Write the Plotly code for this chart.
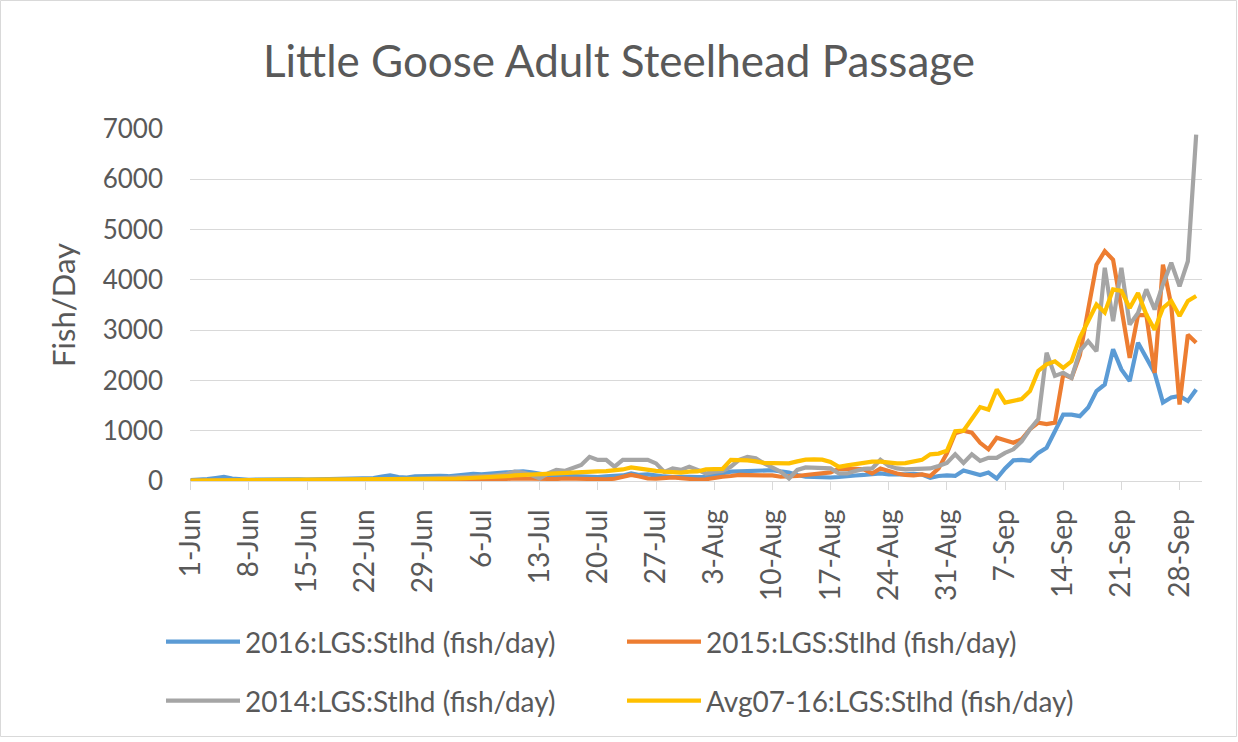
import datetime as dt
import plotly.graph_objects as go

# ---------------- data (daily values, 1-Jun .. 30-Sep) ----------------
start_date = "2016-06-01"
n_days = 122

s2016 = [20, 25, 40, 60, 80, 50, 30, 25, 30, 35,
         30, 35, 40, 35, 30, 35, 40, 45, 40, 50,
         45, 50, 60, 90, 110, 80, 70, 90, 100, 95,
         100, 95, 110, 130, 140, 130, 150, 160, 170, 180,
         190, 170, 140, 120, 110, 100, 110, 95, 90, 80,
         90, 100, 110, 150, 120, 130, 100, 90, 80, 90,
         85, 80, 85, 120, 160, 185, 190, 200, 200, 205,
         215, 190, 170, 120, 85, 80, 70, 70, 80, 85,
         110, 120, 140, 150, 130, 120, 130, 140, 130, 65,
         100, 110, 100, 210, 170, 120, 170, 50, 250, 410,
         420, 400, 560, 660, 990, 1320, 1320, 1290, 1460, 1790,
         1920, 2620, 2220, 1990, 2750, 2450, 2150, 1560, 1660, 1690,
         1590, 1820]

s2015 = [2, 3, 2, 4, 3, 3, 5, 4, 4, 6,
         5, 6, 5, 7, 6, 8, 7, 9, 8, 10,
         9, 11, 10, 12, 14, 13, 15, 18, 20, 22,
         25, 28, 30, 35, 32, 38, 40, 45, 42, 50,
         45, 40, 35, 30, 40, 50, 45, 60, 55, 40,
         35, 45, 80, 120, 90, 50, 45, 60, 70, 55,
         40, 30, 35, 70, 85, 100, 120, 115, 110, 120,
         110, 85, 85, 100, 120, 130, 150, 170, 240, 250,
         240, 230, 150, 250, 190, 150, 120, 110, 130, 100,
         250, 550, 950, 1000, 960, 760, 630, 860, 810, 760,
         830, 1030, 1160, 1130, 1160, 2120, 2050, 2500, 3410, 4300,
         4570, 4400, 3440, 2450, 3300, 3300, 2150, 4300, 3500, 1520,
         2910, 2750]

s2014 = [3, 4, 5, 4, 6, 5, 7, 6, 8, 7,
         9, 8, 10, 12, 11, 13, 12, 15, 14, 16,
         18, 20, 22, 25, 30, 28, 35, 40, 45, 50,
         55, 60, 65, 70, 80, 90, 100, 120, 140, 185,
         170, 120, 50, 150, 220, 200, 250, 320, 480, 420,
         420, 285, 420, 430, 420, 420, 350, 180, 250, 220,
         285, 220, 150, 180, 200, 285, 420, 480, 450, 350,
         270, 185, 50, 220, 270, 270, 260, 250, 150, 150,
         200, 240, 250, 420, 300, 250, 230, 240, 250, 250,
         300, 360, 530, 360, 530, 400, 460, 460, 560, 630,
         790, 1030, 1230, 2550, 2090, 2150, 2050, 2580, 2780, 2580,
         4240, 3180, 4240, 3110, 3340, 3810, 3410, 3910, 4340, 3870,
         4370, 6890]

avg0716 = [8, 9, 9, 10, 10, 11, 11, 12, 12, 13,
           13, 14, 14, 15, 15, 16, 17, 17, 18, 19,
           20, 21, 22, 24, 25, 27, 29, 31, 33, 36,
           40, 45, 50, 55, 60, 68, 75, 85, 95, 110,
           120, 125, 130, 140, 150, 160, 180, 185, 180, 190,
           195, 205, 230, 270, 240, 220, 200, 185, 170, 165,
           185, 190, 230, 225, 240, 420, 420, 410, 390, 360,
           355, 350, 350, 390, 425, 430, 425, 380, 280, 310,
           340, 360, 385, 385, 360, 350, 355, 385, 420, 530,
           545, 600, 990, 1000, 1230, 1470, 1420, 1820, 1560, 1600,
           1630, 1790, 2190, 2320, 2380, 2250, 2380, 2850, 3180, 3510,
           3350, 3810, 3780, 3440, 3740, 3310, 3010, 3440, 3580, 3280,
           3580, 3680]

series_names = ["2016:LGS:Stlhd (fish/day)", "2015:LGS:Stlhd (fish/day)",
                "2014:LGS:Stlhd (fish/day)", "Avg07-16:LGS:Stlhd (fish/day)"]
series_values = [s2016, s2015, s2014, avg0716]
series_colors = ["#5B9BD5", "#ED7D31", "#A5A5A5", "#FFC000"]
series_legend = ["legend", "legend", "legend2", "legend2"]

tick_labels = ["1-Jun", "8-Jun", "15-Jun", "22-Jun", "29-Jun", "6-Jul", "13-Jul",
               "20-Jul", "27-Jul", "3-Aug", "10-Aug", "17-Aug", "24-Aug", "31-Aug",
               "7-Sep", "14-Sep", "21-Sep", "28-Sep"]
y_ticks = [0, 1000, 2000, 3000, 4000, 5000, 6000, 7000]

# ---------------- figure ----------------
d0 = dt.datetime.strptime(start_date, "%Y-%m-%d")
dates = [d0 + dt.timedelta(days=i) for i in range(n_days)]
tick_vals = [d0 + dt.timedelta(days=7 * i) for i in range(len(tick_labels))]

FONT = "Lato"
TXT = "#595959"
W, H = 1238, 742
L, R, T, B = 190, 36, 129, 261
PW, PH = W - L - R, H - T - B

fig = go.Figure()
for name, vals, col, lg in zip(series_names, series_values, series_colors, series_legend):
    fig.add_trace(go.Scatter(x=dates, y=vals, name=name, mode="lines", legend=lg,
                             line=dict(color=col, width=4.2)))

legend_common = dict(orientation="h", xref="container", yref="container",
                     xanchor="left", yanchor="middle",
                     entrywidth=372, entrywidthmode="pixels", itemwidth=74,
                     font=dict(family=FONT, size=28, color=TXT),
                     bgcolor="rgba(0,0,0,0)", traceorder="normal")

fig.update_layout(
    width=W, height=H,
    margin=dict(l=L, r=R, t=T, b=B),
    paper_bgcolor="white", plot_bgcolor="white",
    font=dict(family=FONT, color=TXT, size=23),
    title=dict(text="Little Goose Adult Steelhead Passage",
               x=0.5, xref="container", xanchor="center",
               y=1 - 62 / H, yref="container", yanchor="middle",
               font=dict(family=FONT, size=44, color=TXT)),
    legend=dict(legend_common, x=161 / W, y=1 - 642 / H),
    legend2=dict(legend_common, x=161 / W, y=1 - 701 / H),
    shapes=[dict(type="rect", xref="paper", yref="paper",
                 x0=(0.5 - L) / PW, x1=(1236.5 - L) / PW,
                 y0=(T + PH - 736.5) / PH, y1=(T + PH - 0.5) / PH,
                 line=dict(color="#D9D9D9", width=1))],
)

fig.update_xaxes(
    type="date",
    range=[d0 - dt.timedelta(hours=2), d0 + dt.timedelta(days=121.7)],
    tickvals=tick_vals, ticktext=tick_labels, tickangle=-90,
    showgrid=False, showline=True, linecolor="#D9D9D9", linewidth=1.3,
    ticks="outside", ticklen=8, tickcolor="#D9D9D9", ticklabelstandoff=8,
    tickfont=dict(family=FONT, size=28, color=TXT),
)
fig.update_yaxes(
    range=[0, 7000], tickvals=y_ticks, showgrid=True, gridcolor="#D9D9D9",
    gridwidth=1.3, zeroline=False, showline=False, ticks="",
    ticklabelstandoff=26,
    tickfont=dict(family=FONT, size=26, color=TXT),
    title=dict(text="Fish/Day", font=dict(family=FONT, size=31, color=TXT),
               standoff=17),
)

fig.write_html("out.html", config={"displayModeBar": False},
               post_script="document.body.style.margin='0px';")
